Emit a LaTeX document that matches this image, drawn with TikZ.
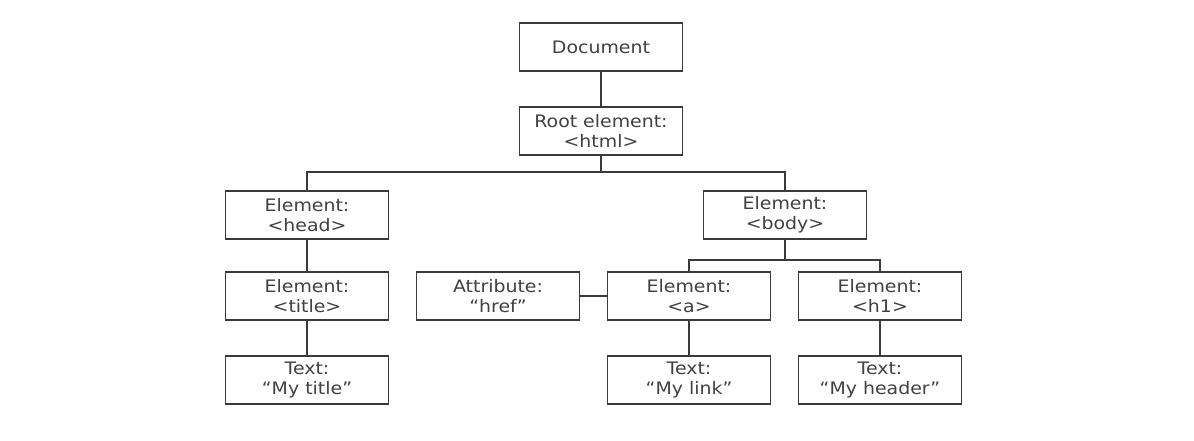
\documentclass[tikz,border=0pt]{standalone}
\usepackage{fontspec}
\setmainfont[FakeStretch=1.1]{DejaVu Sans}
\definecolor{ln}{HTML}{3A3A3A}
\definecolor{tx}{HTML}{404040}
\begin{document}
\begin{tikzpicture}[x=1pt,y=-1pt,
  bx/.style={draw=ln,line width=1.5pt,minimum width=163pt,minimum height=48pt,inner sep=0pt,
    align=center,text=tx,font=\fontsize{17.2}{20}\selectfont},
  cn/.style={draw=ln,line width=1.5pt}]
\useasboundingbox (0,0) rectangle (1194,440);
\node[bx] (doc) at (601,47) {Document};
\node[bx] (root) at (601,131) {Root element:\\<html>};
\node[bx] (head) at (307,215) {Element:\\<head>};
\node[bx] (body) at (785,215) {Element:\\<body>};
\node[bx] (title) at (307,296) {Element:\\<title>};
\node[bx] (attr) at (498,296) {Attribute:\\“href”};
\node[bx] (a) at (689,296) {Element:\\<a>};
\node[bx] (h1) at (880,296) {Element:\\<h1>};
\node[bx] (ttitle) at (307,380) {Text:\\“My title”};
\node[bx] (tlink) at (689,380) {Text:\\“My link”};
\node[bx] (theader) at (880,380) {Text:\\“My header”};
\draw[cn] (doc) -- (root);
\draw[cn] (root.south) -- ++(0,16) -| (head.north);
\draw[cn] (root.south) -- ++(0,16) -| (body.north);
\draw[cn] (body.south) -- ++(0,20) -| (a.north);
\draw[cn] (body.south) -- ++(0,20) -| (h1.north);
\draw[cn] (head) -- (title);
\draw[cn] (title) -- (ttitle);
\draw[cn] (attr) -- (a);
\draw[cn] (a) -- (tlink);
\draw[cn] (h1) -- (theader);
\end{tikzpicture}
\end{document}
